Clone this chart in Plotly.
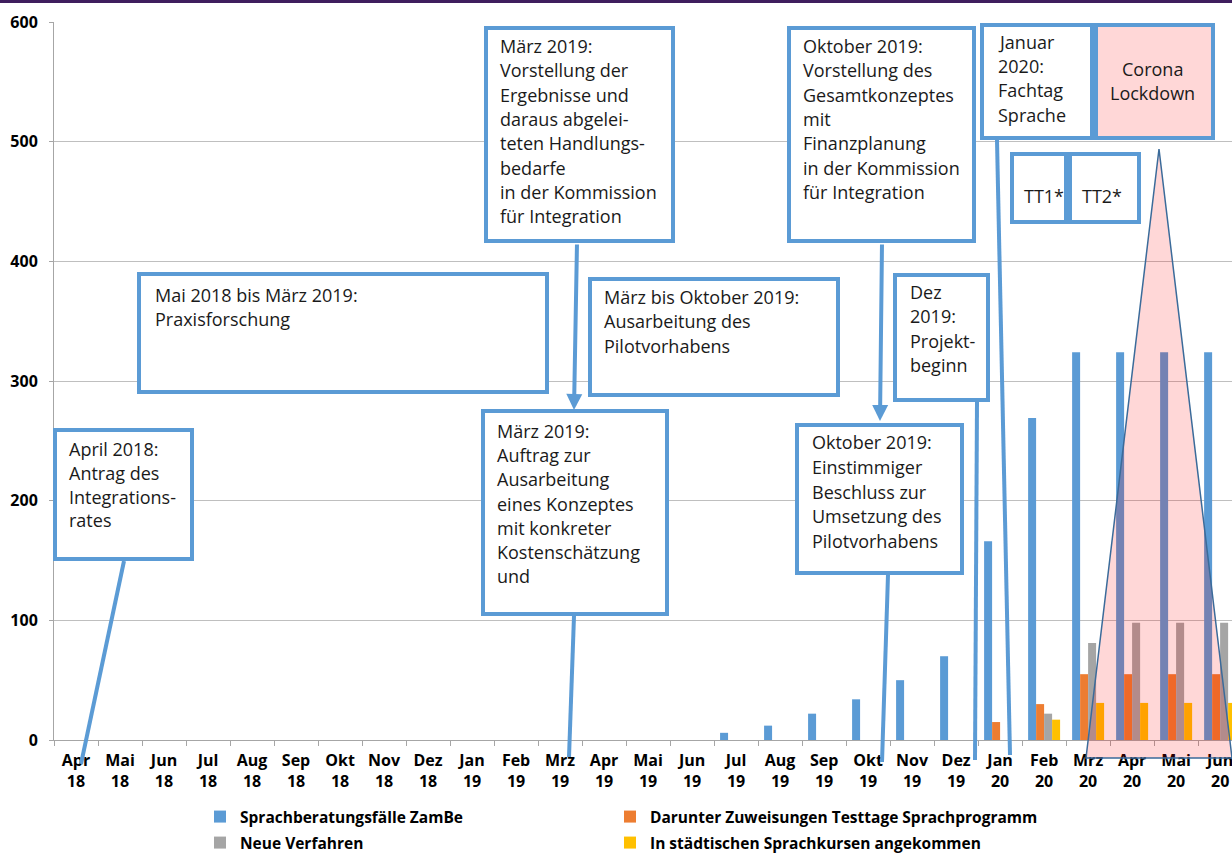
import plotly.graph_objects as go

# ---------------- data ----------------
months = ["Apr", "Mai", "Jun", "Jul", "Aug", "Sep", "Okt", "Nov", "Dez",
          "Jan", "Feb", "Mrz", "Apr", "Mai", "Jun", "Jul", "Aug", "Sep", "Okt", "Nov", "Dez",
          "Jan", "Feb", "Mrz", "Apr", "Mai", "Jun"]
years = ["18", "18", "18", "18", "18", "18", "18", "18", "18",
         "19", "19", "19", "19", "19", "19", "19", "19", "19", "19", "19", "19",
         "20", "20", "20", "20", "20", "20"]
categories = [f"{m}<br>{y}" for m, y in zip(months, years)]

sprachberatung = [0, 0, 0, 0, 0, 0, 0, 0, 0,
                  0, 0, 0, 0, 0, 0, 6, 12, 22, 34, 50, 70,
                  166, 269, 324, 324, 324, 324]
zuweisungen = [0, 0, 0, 0, 0, 0, 0, 0, 0,
               0, 0, 0, 0, 0, 0, 0, 0, 0, 0, 0, 0,
               15, 30, 55, 55, 55, 55]
neue_verfahren = [0, 0, 0, 0, 0, 0, 0, 0, 0,
                  0, 0, 0, 0, 0, 0, 0, 0, 0, 0, 0, 0,
                  0, 22, 81, 98, 98, 98]
sprachkurse = [0, 0, 0, 0, 0, 0, 0, 0, 0,
               0, 0, 0, 0, 0, 0, 0, 0, 0, 0, 0, 0,
               0, 17, 31, 31, 31, 31]

series_names = ["Sprachberatungsfälle ZamBe",
                "Darunter Zuweisungen Testtage Sprachprogramm",
                "Neue Verfahren",
                "In städtischen Sprachkursen angekommen"]
series_colors = ["#5B9BD5", "#ED7D31", "#A5A5A5", "#FFC000"]

# ---------------- layout geometry ----------------
W, H = 1232, 855
L, R, T, B = 54, 0, 22, 115
PW, PH = W - L - R, H - T - B


def X(px):
    return (px - L) / PW


def Y(py):
    return (H - B - py) / PH


BLUE = "#5B9BD5"
TXT = "#1a1a1a"
FONT = "Open Sans"

fig = go.Figure()
values = [sprachberatung, zuweisungen, neue_verfahren, sprachkurse]
legend_ids = ["legend", "legend2", "legend3", "legend4"]
legend_pos = [(200, 817), (610, 817), (200, 843), (610, 843)]
for name, vals, col, lg in zip(series_names, values, series_colors, legend_ids):
    fig.add_trace(go.Bar(x=categories, y=vals, name=name, marker_color=col,
                         marker_line_width=0, legend=lg))

shapes = []
annotations = []

# top purple band
shapes.append(dict(type="rect", xref="paper", yref="paper", x0=X(0), x1=X(W), y0=Y(0), y1=Y(3),
                   fillcolor="#3F1E5E", line_width=0, layer="above"))

# connector lines
connectors = [((124, 561), (81, 764)),
              ((574, 616), (569, 757)),
              ((888, 575), (882, 762)),
              ((977, 402), (975, 760)),
              ((997, 140), (1010, 755))]
for (xa, ya), (xb, yb) in connectors:
    shapes.append(dict(type="line", xref="paper", yref="paper", x0=X(xa), y0=Y(ya), x1=X(xb), y1=Y(yb),
                       line=dict(color=BLUE, width=4), layer="above"))

# boxes (outer edges)
boxes = [
    ((53, 428, 194, 561), "white"),
    ((137, 272, 549, 394), "white"),
    ((484, 26, 675, 243), "white"),
    ((588, 277, 840, 397), "white"),
    ((481, 409, 669, 616), "white"),
    ((787, 26, 976, 243), "white"),
    ((795, 423, 964, 575), "white"),
    ((893, 273, 990, 402), "white"),
    ((980, 23, 1094, 140), "white"),
    ((1094, 23, 1215, 140), "rgb(255,215,215)"),
    ((1010, 152, 1068, 224), "white"),
    ((1068, 152, 1141, 224), "white"),
]
for (x0, y0, x1, y1), fill in boxes:
    shapes.append(dict(type="rect", xref="paper", yref="paper",
                       x0=X(x0 + 2), x1=X(x1 - 2), y0=Y(y0 + 2), y1=Y(y1 - 2),
                       fillcolor=fill, line=dict(color=BLUE, width=4), layer="above"))

# corona triangle
tri = [(1159, 149), (1086, 758), (1232, 758)]
path = "M {} {} L {} {} L {} {} Z".format(X(tri[0][0]), Y(tri[0][1]), X(tri[1][0]), Y(tri[1][1]),
                                        X(tri[2][0]), Y(tri[2][1]))
shapes.append(dict(type="path", xref="paper", yref="paper", path=path,
                   fillcolor="rgba(255,0,0,0.157)", line=dict(color="#3B6B9A", width=1.5), layer="above"))

# box texts: (x, first baseline, spacing, lines, align)
texts = [
    (67, 456, 23.8, ["April 2018:", "Antrag des", "Integrations-", "rates"], "left"),
    (153, 302, 23.5, ["Mai 2018 bis März 2019:", "Praxisforschung"], "left"),
    (498, 53, 24.3, ["März 2019:", "Vorstellung der", "Ergebnisse und", "daraus abgelei-",
                     "teten Handlungs-", "bedarfe", "in der Kommission", "für Integration"], "left"),
    (602, 304, 24.3, ["März bis Oktober 2019:", "Ausarbeitung des", "Pilotvorhabens"], "left"),
    (495, 438, 24.2, ["März 2019:", "Auftrag zur", "Ausarbeitung", "eines Konzeptes",
                      "mit konkreter", "Kostenschätzung", "und"], "left"),
    (801, 53, 24.3, ["Oktober 2019:", "Vorstellung des", "Gesamtkonzeptes", "mit",
                     "Finanzplanung", "in der Kommission", "für Integration"], "left"),
    (810, 449, 24.75, ["Oktober 2019:", "Einstimmiger", "Beschluss zur", "Umsetzung des",
                       "Pilotvorhabens"], "left"),
    (908, 299, 24.3, ["Dez", "2019:", "Projekt-", "beginn"], "left"),
    (996, 49, 24.2, ["Januar", "2020:", "Fachtag", "Sprache"], "left"),
    (1152, 76, 24.0, ["Corona", "Lockdown"], "center"),
    (1044, 203, 24.0, ["TT1*"], "center"),
    (1102, 203, 24.0, ["TT2*"], "center"),
]
for x, base, sp, lines, al in texts:
    for i, line in enumerate(lines):
        annotations.append(dict(text=line, xref="paper", yref="paper", x=X(x), y=Y(base + i * sp - 7),
                                xanchor=al, yanchor="middle", showarrow=False,
                                font=dict(family=FONT, size=18, color=TXT)))

# arrows (tip, start)
arrows = [((574, 410), (577, 243)), ((880, 421), (882, 243))]
for (tx, ty), (sx, sy) in arrows:
    annotations.append(dict(text="", xref="paper", yref="paper", x=X(tx), y=Y(ty),
                            ax=sx - tx, ay=sy - ty, showarrow=True, arrowhead=2,
                            arrowsize=0.8, arrowwidth=4, arrowcolor=BLUE))

legend_font = dict(family=FONT, size=15.5, color="#000", weight="bold")
legend_layout = {}
for lg, (lx, ly) in zip(legend_ids, legend_pos):
    legend_layout[lg] = dict(orientation="h", xref="container", yref="container",
                             x=lx / W, y=(H - ly) / H, xanchor="left", yanchor="middle",
                             font=legend_font, bgcolor="rgba(0,0,0,0)", itemclick=False)

fig.update_layout(
    width=W, height=H,
    margin=dict(l=L, r=R, t=T, b=B, pad=0),
    paper_bgcolor="white", plot_bgcolor="white",
    barmode="group", bargap=0.273, bargroupgap=0,
    font=dict(family=FONT),
    shapes=shapes, annotations=annotations,
    xaxis=dict(type="category", range=[-0.5, 26.27], showgrid=False,
               showline=True, linecolor="#A6A6A6", linewidth=1,
               ticks="outside", tickson="boundaries", ticklen=5, tickcolor="#A6A6A6",
               ticklabelstandoff=6,
               tickfont=dict(family=FONT, size=16, color="#000", weight="bold")),
    yaxis=dict(range=[0, 600], dtick=100, showgrid=True, gridcolor="#BFBFBF", gridwidth=1,
               showline=True, linecolor="#A6A6A6", linewidth=1, zeroline=False,
               ticks="outside", ticklen=4, tickcolor="#A6A6A6", ticklabelstandoff=8,
               tickfont=dict(family=FONT, size=16, color="#000", weight="bold")),
    showlegend=True,
    **legend_layout,
)

fig.write_html("out.html", config={"displayModeBar": False},
               post_script="document.body.style.margin='0';document.body.style.overflow='hidden';")
